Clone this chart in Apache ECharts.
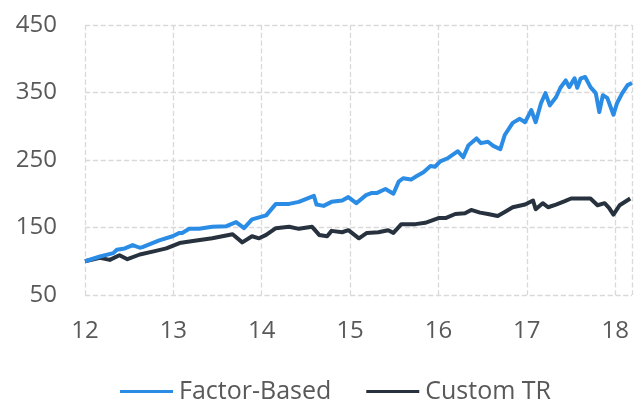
<!DOCTYPE html>
<html>
<head>
<meta charset="utf-8">
<script src="https://cdn.jsdelivr.net/npm/echarts@6/dist/echarts.min.js"></script>
<style>html,body{margin:0;padding:0;background:#fff}#c{width:635px;height:401px}</style>
</head>
<body>
<div id="c"></div>
<script>
// Factor-Based: [year, value]
var factorYears = [12.00,12.17,12.32,12.36,12.45,12.54,12.62,12.65,12.84,12.99,13.07,13.10,13.18,13.29,13.44,13.60,13.71,13.80,13.89,14.05,14.16,14.31,14.42,14.59,14.62,14.70,14.79,14.91,14.98,15.07,15.18,15.24,15.30,15.40,15.49,15.55,15.60,15.69,15.75,15.83,15.91,15.96,16.02,16.11,16.22,16.28,16.34,16.43,16.48,16.56,16.62,16.70,16.75,16.84,16.92,16.98,17.05,17.10,17.16,17.21,17.26,17.33,17.38,17.44,17.48,17.54,17.57,17.61,17.66,17.72,17.78,17.82,17.86,17.91,17.98,18.02,18.08,18.14,18.19];
var factorValues = [100,107,112,117,119,124,120,121,131,137,142,142,148,148,151,152,158,149,162,168,185,185,188,197,184,182,188,190,195,186,198,201,201,207,200,218,223,221,226,232,241,240,248,253,263,254,272,282,275,277,271,266,287,305,311,306,324,306,334,349,331,343,357,368,358,371,357,371,373,358,349,321,346,342,317,334,349,361,364];
// Custom TR
var customYears = [12.00,12.17,12.28,12.39,12.48,12.62,12.79,12.92,13.07,13.22,13.44,13.67,13.78,13.89,13.97,14.05,14.16,14.31,14.42,14.57,14.65,14.74,14.79,14.91,14.98,15.10,15.19,15.32,15.43,15.49,15.58,15.74,15.85,16.00,16.08,16.19,16.30,16.37,16.47,16.56,16.67,16.75,16.84,16.98,17.07,17.10,17.18,17.24,17.33,17.43,17.50,17.65,17.72,17.80,17.88,17.93,17.98,18.05,18.17];
var customValues = [100,105,102,109,103,110,115,119,127,130,134,140,128,137,134,139,149,151,148,151,139,137,145,143,146,134,142,143,146,142,155,155,157,164,164,170,171,176,172,170,167,173,180,184,190,177,186,180,184,189,193,193,193,183,186,179,169,183,193];
var yTicks = [50,150,250,350,450];
var xTickLabels = ['12','13','14','15','16','17','18'];

function pairs(xs, ys){ return xs.map(function(x,i){ return [x, ys[i]]; }); }

var chart = echarts.init(document.getElementById('c'), null, {renderer:'canvas'});
var font = '"Open Sans", "Noto Sans", sans-serif';
var grid = {type:'dashed', color:'#D9D9D9', width:1.3, dashOffset:0};
chart.setOption({
  animation:false,
  backgroundColor:'#ffffff',
  grid:{left:85, right:0, top:25, bottom:106, containLabel:false},
  xAxis:{
    type:'value', min:12, max:18.19, interval:1,
    axisLine:{show:false}, axisTick:{show:false},
    splitLine:{show:true, lineStyle:grid},
    axisLabel:{color:'#595959', fontSize:24, fontFamily:font, margin:24,
      formatter:function(v){ var s=String(Math.round(v)); return (Math.abs(v-Math.round(v))<1e-6 && xTickLabels.indexOf(s)>=0)? s : ''; }}
  },
  yAxis:{
    type:'value', min:yTicks[0], max:yTicks[yTicks.length-1], interval:100,
    axisLine:{show:false}, axisTick:{show:false},
    splitLine:{show:true, lineStyle:grid},
    axisLabel:{color:'#595959', fontSize:24, fontFamily:font, margin:28}
  },
  legend:{
    left:120, top:379, padding:0, itemGap:35, itemWidth:53, itemHeight:3,
    icon:'rect',
    textStyle:{color:'#595959', fontSize:25, fontFamily:font, padding:[0,0,0,1]},
    data:['Factor-Based','Custom TR']
  },
  series:[
    {name:'Factor-Based', type:'line', data:pairs(factorYears, factorValues), showSymbol:false, symbol:'none',
     lineStyle:{color:'#2A8CE5', width:4, join:'round'}, itemStyle:{color:'#2A8CE5'}, z:3},
    {name:'Custom TR', type:'line', data:pairs(customYears, customValues), showSymbol:false, symbol:'none',
     lineStyle:{color:'#27323E', width:4, join:'round'}, itemStyle:{color:'#27323E'}, z:2}
  ]
});
</script>
</body>
</html>
